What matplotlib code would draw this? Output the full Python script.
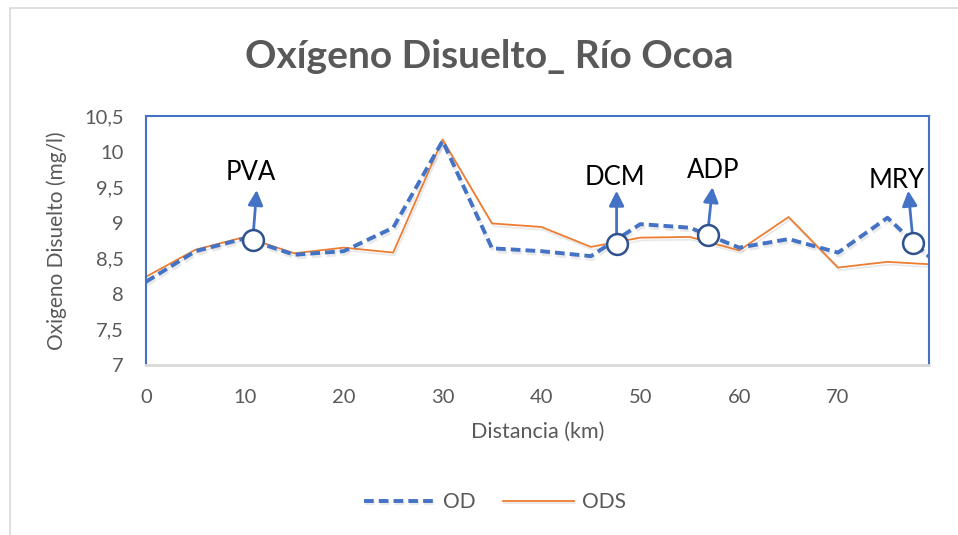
import matplotlib
matplotlib.use("Agg")
import matplotlib.pyplot as plt
import matplotlib.patheffects as pe
from matplotlib.patches import Rectangle

# data
dist = [0, 5, 10, 15, 20, 25, 30, 35, 40, 45, 50, 55, 60, 65, 70, 75, 80]
od = [8.17, 8.60, 8.78, 8.55, 8.60, 8.93, 10.15, 8.64, 8.60, 8.53, 8.98, 8.93, 8.65, 8.77, 8.58, 9.07, 8.42]
ods = [8.24, 8.62, 8.80, 8.57, 8.65, 8.58, 10.17, 8.99, 8.94, 8.66, 8.79, 8.80, 8.61, 9.08, 8.37, 8.45, 8.41]

stations = ["PVA", "DCM", "ADP", "MRY"]
st_x = [10.8, 47.6, 56.8, 77.6]
st_y = [8.76, 8.70, 8.83, 8.72]
tip_x = [11.2, 47.6, 57.3, 77.1]
tip_y = [9.46, 9.45, 9.50, 9.45]
lab_x = [10.6, 47.4, 57.4, 75.9]
lab_y = [9.70, 9.64, 9.74, 9.60]

yticks = [7, 7.5, 8, 8.5, 9, 9.5, 10, 10.5]
ytick_labels = ["7", "7,5", "8", "8,5", "9", "9,5", "10", "10,5"]
xticks = [0, 10, 20, 30, 40, 50, 60, 70]

plt.rcParams['font.family'] = ['Lato', 'DejaVu Sans']
gray = '#595959'
blue = '#4472C4'
orange = '#ED7D31'

fig = plt.figure(figsize=(9.58, 5.35), dpi=100)
ax = fig.add_axes([146/958, 1-365/535, (929-146)/958, (365-116)/535])

# chart area border
fig.patches.append(Rectangle((9.5/958, -0.1), 1.2, 1-8.5/535+0.1, transform=fig.transFigure,
                             fill=False, edgecolor='#D9D9D9', linewidth=1.2))

shadow = [pe.SimpleLineShadow(offset=(1, -2), shadow_color='#888888', alpha=0.18), pe.Normal()]
ax.plot(dist, od, color=blue, linewidth=2.8, linestyle=(0, (2.5, 1.3)), label='OD',
        path_effects=shadow, zorder=3)
ax.plot(dist, ods, color=orange, linewidth=1.3, label='ODS', path_effects=shadow, zorder=2)

for name, x, y, tx, ty, lx, ly in zip(stations, st_x, st_y, tip_x, tip_y, lab_x, lab_y):
    ax.annotate('', xy=(tx, ty), xytext=(x, y),
                arrowprops=dict(arrowstyle='-|>,head_length=0.9,head_width=0.45',
                                color=blue, linewidth=2, shrinkA=0, shrinkB=0), zorder=4)
    ax.plot([x], [y], marker='o', markersize=15, markerfacecolor='white',
            markeredgecolor='#2F528F', markeredgewidth=1.8, zorder=5)
    ax.text(lx, ly, name, fontsize=18.5, color='black', ha='center', va='center', zorder=6)

ax.set_xlim(0, 79.2)
ax.set_ylim(7, 10.5)
ax.set_xticks(xticks)
ax.set_yticks(yticks)
ax.set_yticklabels(ytick_labels)
ax.tick_params(axis='both', length=0, labelsize=14.5, labelcolor=gray)
ax.tick_params(axis='x', pad=17)
ax.tick_params(axis='y', pad=16)

for side in ['left', 'top', 'right']:
    ax.spines[side].set_color(blue)
    ax.spines[side].set_linewidth(1.5)
ax.spines['bottom'].set_color('#D9D9D9')
ax.spines['bottom'].set_linewidth(2)

ax.set_xlabel('Distancia (km)', fontsize=15.5, color=gray, labelpad=12)
ax.set_ylabel('Oxigeno Disuelto (mg/l)', fontsize=15, color=gray, labelpad=12)

fig.text(489/958, 1-57/535, 'Oxígeno Disuelto_ Río Ocoa', fontsize=28, fontweight='bold',
         color=gray, ha='center', va='center')

fig.legend(loc='center', bbox_to_anchor=(495/958, 1-502/535), ncol=2, frameon=False,
           fontsize=15, labelcolor=gray, handlelength=3.4, columnspacing=1.3, handletextpad=0.4)

fig.savefig('out.png', dpi=100)
